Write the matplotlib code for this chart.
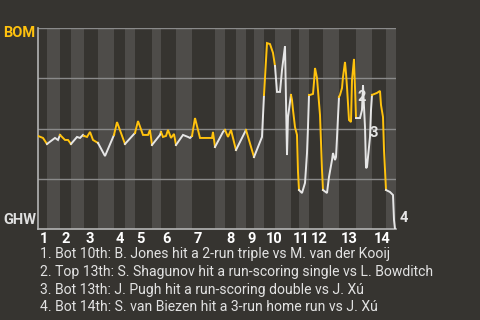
import numpy as np
import matplotlib
matplotlib.use('Agg')
import matplotlib.pyplot as plt

plt.rcParams['font.family'] = ['Roboto', 'DejaVu Sans']

# game progress (play index) and BOM win probability
play = [0, 5, 9, 17, 20, 22, 27, 30, 33, 39, 42, 45, 46, 49, 52, 55, 60, 67, 76, 79,
        87, 97, 100, 105, 110, 112, 114, 122, 123, 125, 128, 130, 133, 136, 138, 145,
        150, 152, 154, 157, 162, 174, 175, 177, 185, 187, 190, 193, 198, 208, 216, 224,
        226, 229, 232, 235, 237, 239, 242, 244, 245, 247, 249, 250, 252, 253, 254, 255,
        257, 259, 260, 261, 264, 267, 269, 270, 271, 272, 275, 276, 277, 279, 282, 284,
        285, 289, 291, 294, 295, 297, 298, 299, 300, 301, 302, 304, 305, 307, 308, 309,
        311, 313, 314, 316, 317, 318, 319, 322, 324, 325, 326, 327, 328, 329, 331, 332,
        333, 334, 339, 342, 343, 345, 346, 348, 352, 355, 356, 357]
wp = [0.463, 0.453, 0.423, 0.453, 0.443, 0.468, 0.443, 0.443, 0.423, 0.458, 0.453, 0.468,
      0.463, 0.458, 0.483, 0.443, 0.428, 0.363, 0.468, 0.532, 0.423, 0.478, 0.537, 0.468,
      0.468, 0.493, 0.418, 0.468, 0.483, 0.458, 0.463, 0.493, 0.453, 0.473, 0.418, 0.468,
      0.458, 0.453, 0.463, 0.552, 0.453, 0.453, 0.483, 0.408, 0.483, 0.493, 0.458, 0.493,
      0.393, 0.493, 0.358, 0.458, 0.667, 0.925, 0.920, 0.876, 0.811, 0.682, 0.682, 0.791,
      0.831, 0.910, 0.368, 0.557, 0.632, 0.667, 0.642, 0.592, 0.507, 0.468, 0.284, 0.194,
      0.179, 0.229, 0.378, 0.507, 0.667, 0.667, 0.672, 0.731, 0.801, 0.751, 0.567, 0.294,
      0.194, 0.179, 0.259, 0.343, 0.378, 0.343, 0.358, 0.453, 0.557, 0.657, 0.667, 0.701,
      0.756, 0.831, 0.776, 0.706, 0.542, 0.532, 0.741, 0.846, 0.706, 0.552, 0.552, 0.552,
      0.592, 0.716, 0.607, 0.507, 0.303, 0.308, 0.408, 0.458, 0.592, 0.667, 0.677, 0.687,
      0.617, 0.557, 0.393, 0.194, 0.184, 0.169, 0.045, 0.0]

# start of each half inning (top, bottom, top, ...) and end of game
half_starts = [0, 9, 22, 33, 46, 60, 76, 87, 97, 114, 123, 138, 154, 177, 187, 198,
               208, 216, 226, 237, 253, 261, 271, 285, 301, 318, 334, 348]
game_end = 358
innings = [str(i) for i in range(1, 15)]

# numbered plays
note_x = [320, 332, 362]
note_wp = [0.657, 0.478, 0.055]
note_lbl = ['2', '3', '4']
notes = [
    '1. Bot 10th: B. Jones hit a 2-run triple vs M. van der Kooij',
    '2. Top 13th: S. Shagunov hit a run-scoring single vs L. Bowditch',
    '3. Bot 13th: J. Pugh hit a run-scoring double vs J. Xú',
    '4. Bot 14th: S. van Biezen hit a 3-run home run vs J. Xú',
]

bg = '#363430'
band = '#4e4c49'
yellow = '#ffc20e'
white = '#e6e6e6'

fig = plt.figure(figsize=(4.8, 3.2), dpi=100, facecolor=bg)
ax = fig.add_axes([38 / 480, 1 - 229 / 320, 358 / 480, 201 / 320])
ax.set_facecolor(bg)

x = np.array(play)
y = np.array(wp)
bounds = half_starts + [game_end]
for i in range(len(half_starts)):
    a, b = bounds[i], bounds[i + 1]
    if i % 2 == 1:
        ax.axvspan(a, b, color=band, lw=0, zorder=0)
    m = (x >= a) & (x <= b)
    ax.plot(x[m], y[m], color=yellow if i % 2 == 0 else white, lw=1.4,
            solid_joinstyle='miter', zorder=3)

for g in [0.25, 0.5, 0.75, 1.0]:
    ax.axhline(g, color='#8a8a8a', lw=1, zorder=1)

ax.set_xlim(0, game_end)
ax.set_ylim(0, 1)
ax.set_xticks([])
ax.set_yticks([])
for s in ['top', 'right']:
    ax.spines[s].set_visible(False)
for s in ['left', 'bottom']:
    ax.spines[s].set_color('#b4b4b4')
    ax.spines[s].set_linewidth(1.2)

for lbl, hs in zip(innings, half_starts[::2]):
    ax.text(hs + 1.5, -0.015, lbl, transform=ax.get_xaxis_transform(), ha='left',
            va='top', color='white', fontsize=10.5, fontweight='bold')

for nx, ny, nl in zip(note_x, note_wp, note_lbl):
    ax.text(nx, ny, nl, color=white, fontsize=10.5, fontweight='bold',
            ha='left', va='center', clip_on=False, zorder=4)

fig.text(3 / 480, 1 - 33 / 320, 'BOM', color=yellow, fontsize=10.5,
         fontweight='bold', ha='left', va='center')
fig.text(3 / 480, 1 - 220 / 320, 'GHW', color='#e0e0e0', fontsize=10.5,
         fontweight='bold', ha='left', va='center')

for i, t in enumerate(notes):
    fig.text(40 / 480, 1 - (258 + 17.8 * i) / 320, t, color='#e2e2e2', fontsize=10.1,
             ha='left', va='baseline')

fig.savefig('out.png', dpi=100, facecolor=bg)
